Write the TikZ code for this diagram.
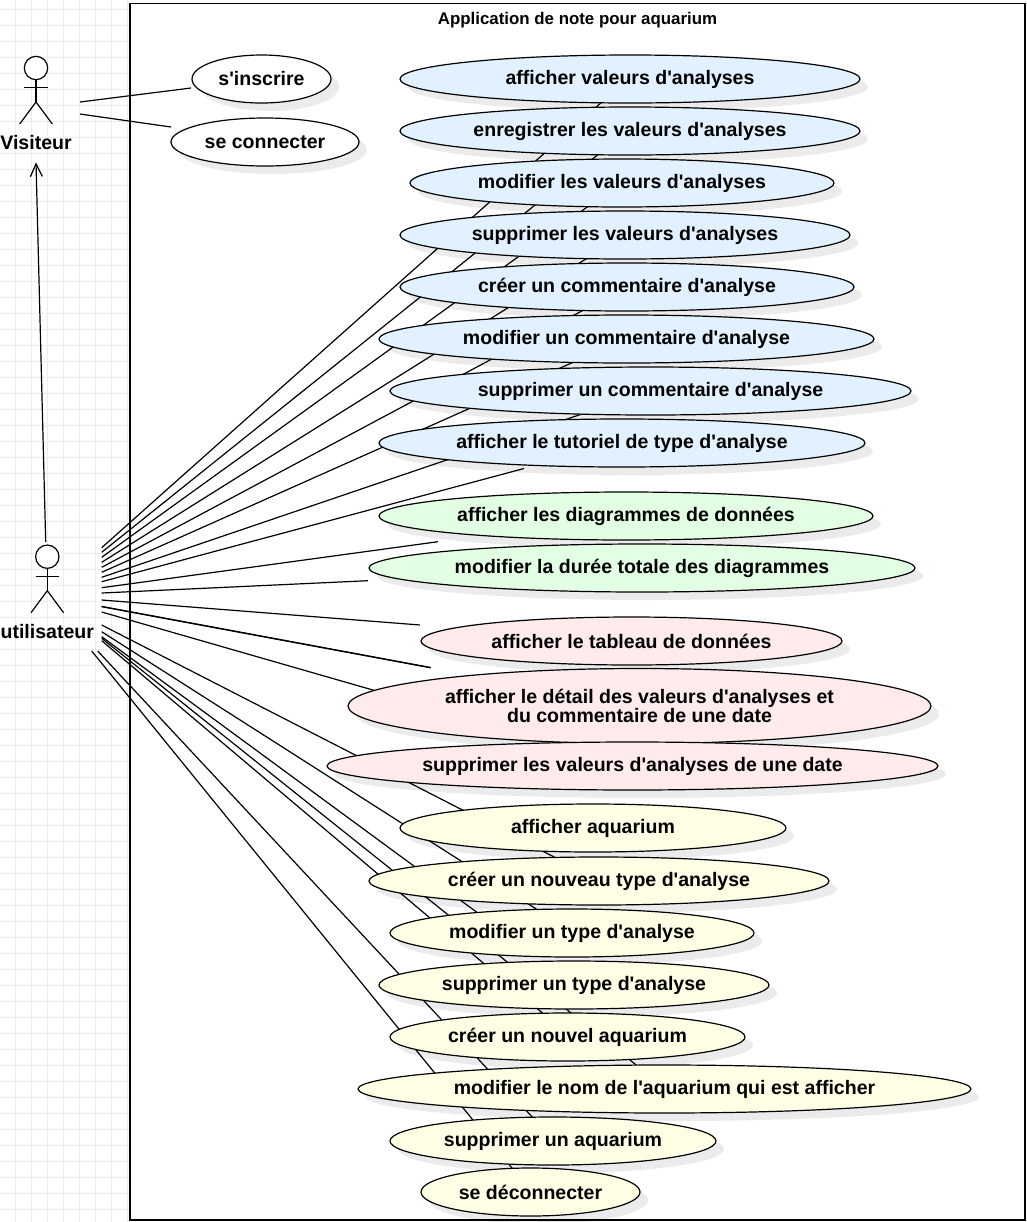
\documentclass[tikz,border=0pt]{standalone}
\usepackage{fontspec}
\usetikzlibrary{arrows.meta, shapes.geometric, shadows, backgrounds}
\newfontfamily\diagfont{Liberation Sans}
\definecolor{tintblue}{HTML}{E1F1FF}
\definecolor{tintgreen}{HTML}{E3FFE3}
\definecolor{tintred}{HTML}{FFEBEB}
\definecolor{tintyellow}{HTML}{FFFFE5}
\tikzset{
  label text/.style={font=\diagfont\bfseries\fontsize{14.65}{14.6}\selectfont},
  usecase/.style={ellipse, draw=black, line width=0.9pt, inner sep=0pt, label text, align=center,
    drop shadow={shadow xshift=6pt, shadow yshift=-6pt, opacity=0.08, fill=black}},
  link/.style={black, line width=0.9pt},
  gridline/.style={black!7, line width=0.6pt}
}
\begin{document}
\begin{tikzpicture}[x=0.75pt, y=-0.75pt]
\useasboundingbox (0,0) rectangle (1027,1222);
\node [label text, font=\diagfont\bfseries\fontsize{12.65}{14}\selectfont] (title) at (577.5,20.5) {Application de note pour aquarium};
% use cases, each list is drawn top to bottom
\foreach \nm/\cx/\cy/\w/\tone/\lbl in {
  signup/261.5/79/139/white/s'inscrire,
  login/265/142/188/white/se connecter,
  v1/630/79/460/tintblue/afficher valeurs d'analyses,
  v2/630/131/460/tintblue/enregistrer les valeurs d'analyses,
  v3/622/183/424/tintblue/modifier les valeurs d'analyses,
  v4/625/235/450/tintblue/supprimer les valeurs d'analyses,
  v5/627/287/454/tintblue/créer un commentaire d'analyse,
  v6/626.5/339/495/tintblue/modifier un commentaire d'analyse,
  v7/650.5/391/521/tintblue/supprimer un commentaire d'analyse,
  v8/622/443/486/tintblue/afficher le tutoriel de type d'analyse,
  g1/626/516/494/tintgreen/afficher les diagrammes de données,
  g2/642/568/546/tintgreen/modifier la durée totale des diagrammes,
  r1/631.5/641/421/tintred/afficher le tableau de données,
  r2/639.5/706/583/tintred/{afficher le détail des valeurs d'analyses et\\du commentaire de une date},
  r3/632.5/766/611/tintred/supprimer les valeurs d'analyses de une date,
  y1/593/828/386/tintyellow/afficher aquarium,
  y2/599/881/460/tintyellow/créer un nouveau type d'analyse,
  y3/572/933/364/tintyellow/modifier un type d'analyse,
  y4/574/985/390/tintyellow/supprimer un type d'analyse,
  y5/567.5/1037/355/tintyellow/créer un nouvel aquarium,
  y6/664.5/1089/613/tintyellow/modifier le nom de l'aquarium qui est afficher,
  y7/553/1141/326/tintyellow/supprimer un aquarium,
  y8/530.5/1192/219/tintyellow/se déconnecter}
{
  \ifnum\pdfstrcmp{\nm}{r2}=0 \def\tall{56.25pt}\else\def\tall{36pt}\fi
  \node [usecase, fill=\tone, minimum width=\w*0.75pt, minimum height=\tall] (\nm) at (\cx,\cy) {\lbl};
}
% the two actors
\foreach \who/\x/\y/\name/\ny in {visitor/36/68/Visiteur/142.5, user/47.3/556.7/utilisateur/631.5}
{
  \node [circle, draw, line width=0.9pt, fill=white, inner sep=0pt, minimum size=17.5pt] (\who Head) at (\x,\y) {};
  \node [label text, inner sep=0pt] (\who Name) at (\x,\ny) {\name};
  \coordinate (\who Hip) at (\x,\y+34);
  \draw [link] (\who Head.south) -- (\who Hip);
  \draw [link] (\x-11.7,\y+19.5) -- (\x+11.7,\y+19.5);
  \draw [link] (\x-16.3,\y+56) -- (\who Hip) -- (\x+16.3,\y+56);
}
\begin{scope}[on background layer]
\foreach \i in {0,...,8}
\draw [gridline] (16*\i-0.3,0) -- (16*\i-0.3,1222);
\foreach \i in {0,...,76}
\draw [gridline] (0,16*\i+9.3) -- (130,16*\i+9.3);
\draw [black, line width=0.9pt, fill=white] (130,3.3) rectangle (1025,1220);
% tail x and y on the actor side, then the point under the ellipse
\foreach \n/\sx/\sy/\uc/\dx/\dy in {
  a1/80/102/signup/-70.5/9, a2/80/114/login/-94/-15,
  b1/101.7/547.7/v1/-27/22, b2/101.7/552.3/v2/-30/22, b3/101.7/557.3/v3/-32/22,
  b4/101.7/562.3/v4/-36/22, b5/101.7/567.3/v5/-41.5/22, b6/101.7/572.3/v6/-50.5/22,
  b7/101.7/577.3/v7/-65.7/22, b8/101.7/581.7/v8/-98/25.5,
  c1/101.7/587.7/g1/-188/25.7, c2/101.7/593/g2/-274/12.7,
  d1/101.7/600/r1/-211.5/-16, d2/101.7/606.4/r3/-201.8/-98.5, d3/101.7/606.7/r3/-201.8/-98.2,
  d4/101.7/612/r2/-254.5/-12.5,
  e1/101.7/625/y2/-39/-21, e2/101.7/631.7/y3/-31/-21, e3/101.7/636.7/y3/-71/-3,
  e4/101.7/638.3/y6/-24.5/-21, e5/101.7/640.7/y5/-21.5/-21,
  e6/97.7/651/y7/-17/-20, e7/91.7/651/y8/-14.5/-19}
{
  \coordinate (\n) at (\sx,\sy);
  \draw [link] (\n) -- ([shift={(\dx,\dy)}]\uc.center);
}
\end{scope}
\draw [link, -{Straight Barb[length=9.5pt, width=9pt]}] ([xshift=-1.2pt, yshift=1.8pt]userHead.north) -- ([yshift=-15pt]visitorName.center);
\end{tikzpicture}
\end{document}
